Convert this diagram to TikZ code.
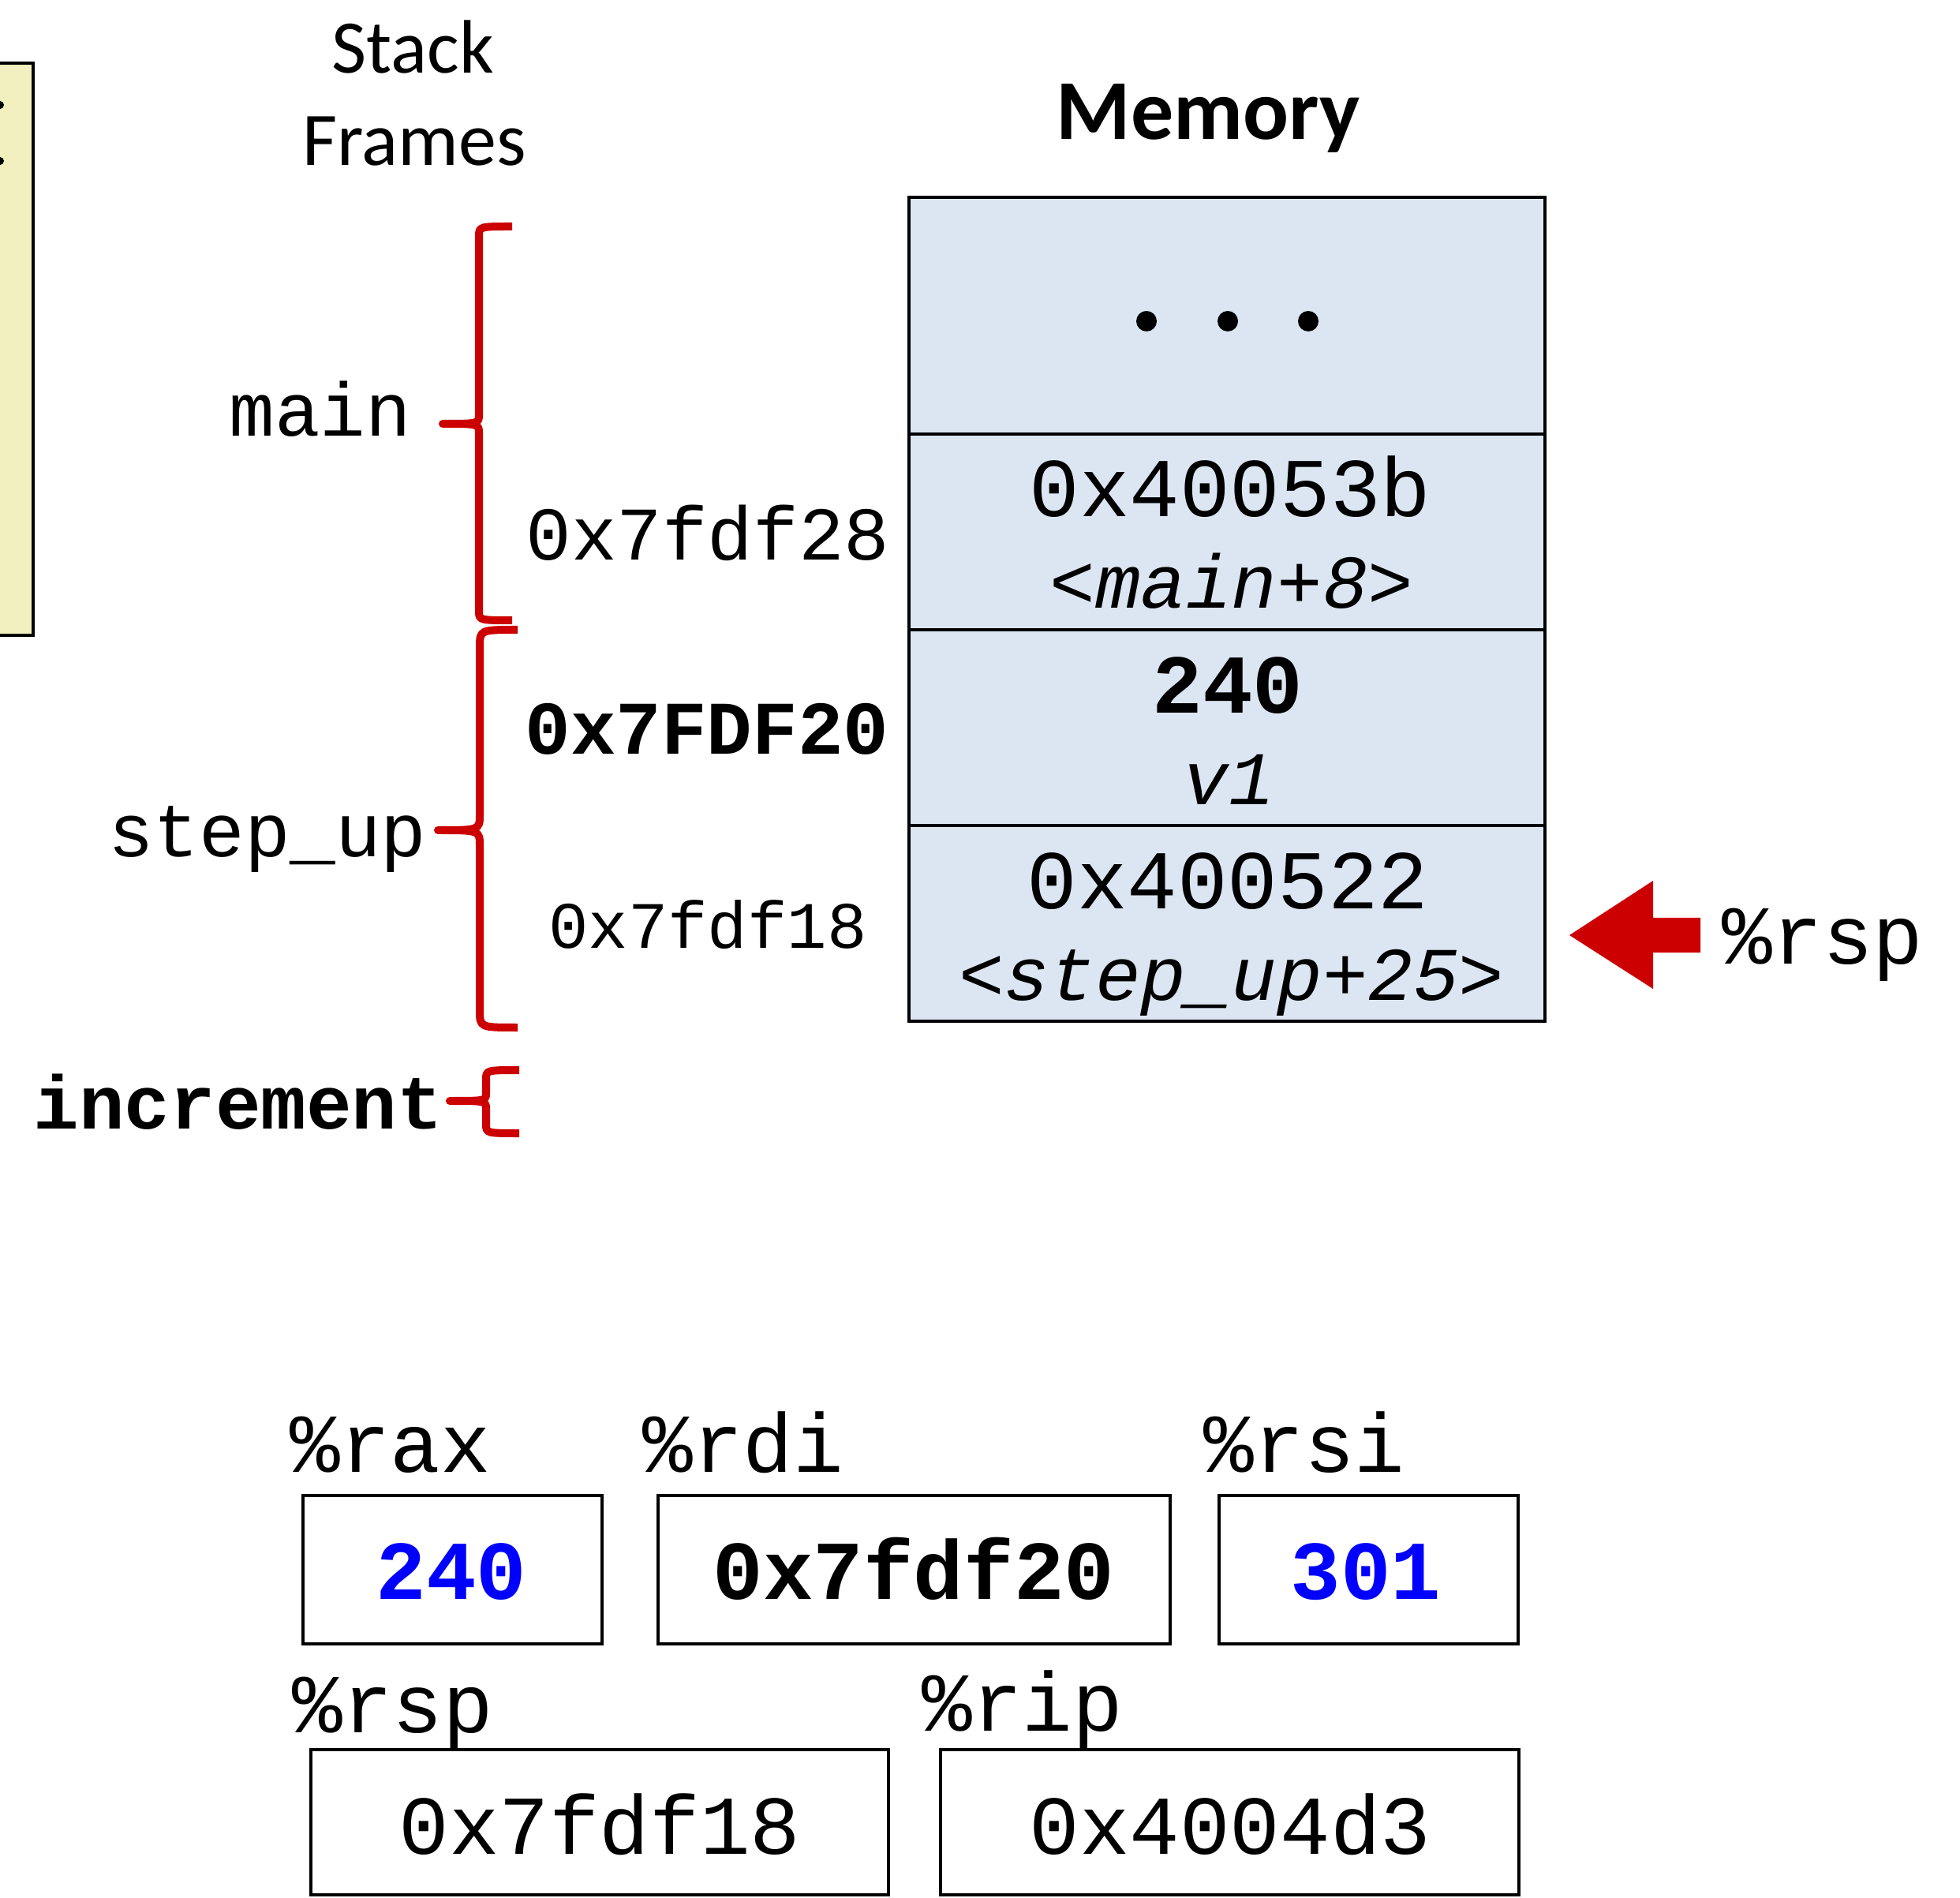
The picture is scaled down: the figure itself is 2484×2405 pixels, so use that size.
\documentclass[tikz,border=0pt]{standalone}
\usepackage{fontspec}
\setmainfont{Carlito}
\setmonofont{Liberation Mono}
\usepackage{tikz}
\definecolor{bracered}{RGB}{204,0,0}
\definecolor{memblue}{RGB}{220,230,242}
\definecolor{codeyellow}{RGB}{242,240,190}
\newcommand{\bigmono}{\ttfamily\fontsize{26.5}{30}\selectfont}
\newcommand{\midmono}{\ttfamily\fontsize{24}{28}\selectfont}
\tikzstyle{brace} = [color=bracered,line width=2.5pt,line join=round]
\tikzstyle{cell} = [draw,line width=0.9pt,fill=memblue]
\tikzstyle{regbox} = [draw,line width=1pt]
\tikzstyle{monobig} = [inner sep=0pt,anchor=base,font=\bigmono]
\tikzstyle{monobigbf} = [inner sep=0pt,anchor=base,font=\bigmono\bfseries]
\tikzstyle{monomid} = [inner sep=0pt,anchor=base,font=\midmono]
\tikzstyle{monomidbf} = [inner sep=0pt,anchor=base,font=\midmono\bfseries]
\tikzstyle{monomidit} = [inner sep=0pt,anchor=base,font=\midmono\itshape]

\begin{document}
\begin{tikzpicture}[x=0.25pt,y=0.25pt,yscale=-1,xscale=1]
\useasboundingbox (0,0) rectangle (2484,2405);

%Shape: Rectangle (code box, cut at the left)
\draw [fill=codeyellow,line width=1.2pt] (-30,80) rectangle (42,805) ;
\fill (0,133) circle (5) ;
\fill (0,204) circle (5) ;

% Text Node
\draw (523,93) node (stack) [inner sep=0pt,anchor=base,font=\fontsize{24}{28}\selectfont] {Stack};
% Text Node
\draw (525,210) node (frames) [inner sep=0pt,anchor=base,font=\fontsize{24}{28}\selectfont] {Frames};
% Text Node
\draw (1531,177) node (memory) [inner sep=0pt,anchor=base,font=\bfseries\fontsize{27}{32}\selectfont] {Memory};

%Shape: Memory cells
\draw [cell] (1152,250) rectangle (1958,550) ;
\draw [cell] (1152,550) rectangle (1958,798) ;
\draw [cell] (1152,798) rectangle (1958,1046) ;
\draw [cell] (1152,1046) rectangle (1958,1294) ;
\foreach \dx in {1453,1556,1658}
  \fill (\dx,407) circle (13) ;

% Text Node
\draw (1559,655) node (retmain) [monobig] {0x40053b};
\draw (1561,771) node (retmainsym) [monomidit] {<main+8>};
\draw (1556,904) node (vone) [monobigbf] {240};
\draw (1557,1020) node (vonename) [monomidit] {v1};
\draw (1556,1152) node (retstep) [monobig] {0x400522};
\draw (1561,1267) node (retstepsym) [monomidit] {<step\_up+25>};

%Shape: Braces
\draw [brace] (649,287) .. controls (607,287) and (607,287) .. (607,300) -- (607,525) .. controls (607,537) and (607,537) .. (561,537) .. controls (607,537) and (607,537) .. (607,549) -- (607,774) .. controls (607,786) and (607,786) .. (649,786) ;
\draw [brace] (656,798) .. controls (608,798) and (608,798) .. (608,820) -- (608,1032) .. controls (608,1052) and (608,1052) .. (555,1052) .. controls (608,1052) and (608,1052) .. (608,1072) -- (608,1280) .. controls (608,1302) and (608,1302) .. (656,1302) ;
\draw [brace] (658,1356) .. controls (616,1356) and (616,1356) .. (616,1368) -- (616,1385) .. controls (616,1395) and (616,1395) .. (570,1395) .. controls (616,1395) and (616,1395) .. (616,1405) -- (616,1424) .. controls (616,1436) and (616,1436) .. (658,1436) ;

% Text Node
\draw (406,553) node (fmain) [monomid] {main};
\draw (339,1086) node (fstep) [monomid] {step\_up};
\draw (302,1430) node (finc) [monomidbf] {increment};
\draw (897,710) node (addrtop) [monomid] {0x7fdf28};
\draw (896,956) node (addrmid) [monomidbf] {0x7FDF20};
\draw (897,1202) node (addrlow) [inner sep=0pt,anchor=base,font=\ttfamily\fontsize{21}{24}\selectfont] {0x7fdf18};

%Shape: Block arrow
\fill [bracered] (1989,1185) -- (2095,1116) -- (2095,1163) -- (2155,1163) -- (2155,1207) -- (2095,1207) -- (2095,1253) -- cycle ;
\draw (2310,1221) node (rspptr) [monobig] {\%rsp};

%Shape: Registers
\draw [regbox] (384,1895) rectangle (763,2083) ;
\draw [regbox] (834,1895) rectangle (1483,2083) ;
\draw [regbox] (1545,1895) rectangle (1924,2083) ;
\draw [regbox] (394,2217) rectangle (1126,2401) ;
\draw [regbox] (1192,2217) rectangle (1925,2401) ;

% Text Node
\draw (495,1865) node (rax) [monobig] {\%rax};
\draw (942,1865) node (rdi) [monobig] {\%rdi};
\draw (1653,1865) node (rsi) [monobig] {\%rsi};
\draw (498,2195) node (rsp) [monobig] {\%rsp};
\draw (1296,2193) node (rip) [monobig] {\%rip};
\draw (572,2026) node (raxval) [monobigbf,text=blue] {240};
\draw (1158,2026) node (rdival) [monobigbf] {0x7fdf20};
\draw (1731,2026) node (rsival) [monobigbf,text=blue] {301};
\draw (760,2349) node (rspval) [monobig] {0x7fdf18};
\draw (1559,2349) node (ripval) [monobig] {0x4004d3};

\end{tikzpicture}
\end{document}
